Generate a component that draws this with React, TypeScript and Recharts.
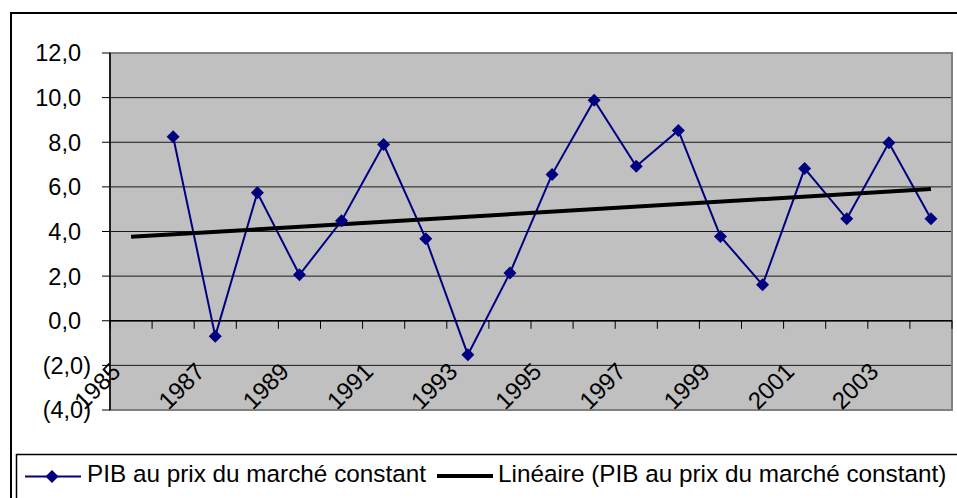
import {
  CartesianGrid,
  ComposedChart,
  Line,
  ReferenceArea,
  ReferenceLine,
  XAxis,
  YAxis,
} from "recharts";

const years = [
  1985, 1986, 1987, 1988, 1989, 1990, 1991, 1992, 1993, 1994, 1995, 1996,
  1997, 1998, 1999, 2000, 2001, 2002, 2003, 2004,
];
const gdp = [
  null, 8.25, -0.69, 5.74, 2.06, 4.48, 7.9, 3.68, -1.52, 2.14, 6.56, 9.88,
  6.92, 8.53, 3.78, 1.61, 6.82, 4.57, 7.98, 4.57,
];
const trendYears = [1985, 2004];
const trendValues = [3.76, 5.9];
const yTicks = [-4, -2, 0, 2, 4, 6, 8, 10, 12];
const labelYears = [1985, 1987, 1989, 1991, 1993, 1995, 1997, 1999, 2001, 2003];

const serieName = "PIB au prix du marché constant";
const trendName = "Linéaire (PIB au prix du marché constant)";

const rows = years.map((year, i) => ({ year, gdp: gdp[i] }));
const trendRows = trendYears.map((year, i) => ({ year, trend: trendValues[i] }));
const boundaries = [...years.map((y) => y - 0.5), years[years.length - 1] + 0.5];

const FONT = '"Liberation Sans", Arial, sans-serif';
const NAVY = "#000080";

function fmt(v: number) {
  const s = Math.abs(v).toFixed(1).replace(".", ",");
  return v < 0 ? `(${s})` : s;
}

function Diamond(props: any) {
  const { cx, cy, value } = props;
  if (cx == null || cy == null || value == null) return null;
  const r = 6.5;
  return (
    <polygon
      key={props.key}
      points={`${cx},${cy - r} ${cx + r},${cy} ${cx},${cy + r} ${cx - r},${cy}`}
      fill={NAVY}
    />
  );
}

function YTick({ x, y, payload }: any) {
  const v = payload.value as number;
  return (
    <text
      x={v < 0 ? x - 9 : x - 19}
      y={y}
      dy="0.36em"
      textAnchor="end"
      fontSize={23.5}
      fontFamily={FONT}
      fill="#000"
    >
      {fmt(v)}
    </text>
  );
}

function XTick({ x, y, payload }: any) {
  return (
    <text
      transform={`translate(${x - 9},${y - 37}) rotate(-45)`}
      textAnchor="end"
      fontSize={24}
      fontFamily={FONT}
      fill="#000"
    >
      {payload.value}
    </text>
  );
}

export default function App() {
  return (
    <div
      style={{
        position: "absolute",
        left: 0,
        top: 0,
        width: 957,
        height: 498,
        overflow: "hidden",
        background: "#fff",
      }}
    >
      <div
        style={{
          position: "absolute",
          left: 10,
          top: 12,
          width: 980,
          height: 520,
          border: "2px solid #000",
        }}
      />
      <div style={{ position: "absolute", left: 0, top: 0 }}>
        <ComposedChart
          width={957}
          height={498}
          margin={{ top: 53, right: 5, left: 10, bottom: 58 }}
        >
          <CartesianGrid
            vertical={false}
            fill="#c0c0c0"
            fillOpacity={1}
            stroke="#1a1a1a"
          />
          <XAxis
            dataKey="year"
            type="number"
            domain={[1984.5, 2004.5]}
            ticks={labelYears}
            height={30}
            axisLine={false}
            tickLine={false}
            tickSize={0}
            tickMargin={0}
            tick={<XTick />}
            allowDuplicatedCategory={false}
          />
          <YAxis
            domain={[-4, 12]}
            ticks={yTicks}
            width={100}
            tickSize={8}
            axisLine={{ stroke: "#000", strokeWidth: 1.5 }}
            tickLine={{ stroke: "#000" }}
            tick={<YTick />}
          />
          <ReferenceArea
            x1={1984.5}
            x2={2004.5}
            y1={-4}
            y2={12}
            fill="none"
            stroke="#808080"
            strokeWidth={2}
          />
          <ReferenceLine y={0} stroke="#000" strokeWidth={1.5} />
          {boundaries.map((b) => (
            <ReferenceLine
              key={b}
              segment={[
                { x: b, y: 0 },
                { x: b, y: -0.36 },
              ]}
              stroke="#000"
              strokeWidth={1}
            />
          ))}
          <Line
            data={rows}
            dataKey="gdp"
            name={serieName}
            stroke={NAVY}
            strokeWidth={2}
            dot={Diamond}
            activeDot={false}
            isAnimationActive={false}
          />
          <Line
            data={trendRows}
            dataKey="trend"
            name={trendName}
            stroke="#000"
            strokeWidth={4}
            dot={false}
            activeDot={false}
            isAnimationActive={false}
          />
        </ComposedChart>
      </div>
      <svg
        width={957}
        height={498}
        style={{ position: "absolute", left: 0, top: 0, pointerEvents: "none" }}
      >
        <rect
          x={16.5}
          y={454.5}
          width={960}
          height={80}
          fill="#fff"
          stroke="#000"
          strokeWidth={1.5}
        />
        <line x1={25} y1={476.5} x2={81} y2={476.5} stroke={NAVY} strokeWidth={2} />
        <polygon points="52,470 58.5,476.5 52,483 45.5,476.5" fill={NAVY} />
        <text x={87} y={482} fontSize={24.3} fontFamily={FONT} fill="#000">
          {serieName}
        </text>
        <line x1={437} y1={476} x2={493} y2={476} stroke="#000" strokeWidth={4} />
        <text x={498} y={482} fontSize={24.3} fontFamily={FONT} fill="#000">
          {trendName}
        </text>
      </svg>
    </div>
  );
}
